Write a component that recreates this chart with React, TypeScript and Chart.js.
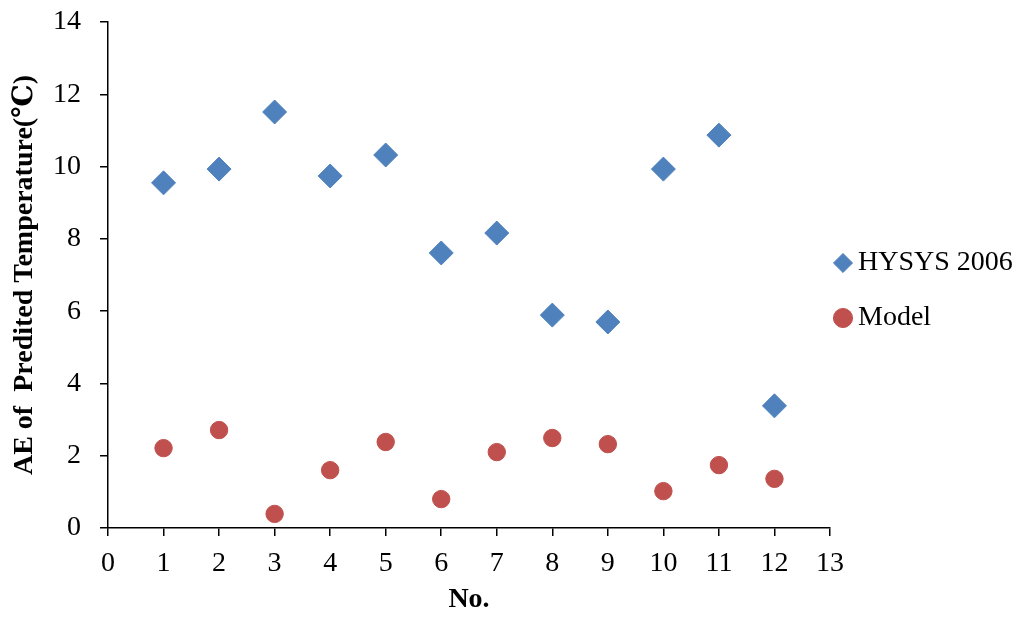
import React, { useEffect, useRef } from "react";
import { Chart, registerables } from "chart.js";

Chart.register(...registerables);

const categories = [1, 2, 3, 4, 5, 6, 7, 8, 9, 10, 11, 12];
const hysysValues = [9.55, 9.93, 11.51, 9.74, 10.32, 7.61, 8.16, 5.89, 5.70, 9.93, 10.87, 3.38];
const modelValues = [2.21, 2.71, 0.39, 1.60, 2.38, 0.80, 2.10, 2.49, 2.32, 1.02, 1.74, 1.36];
const seriesLabels = ["HYSYS 2006", "Model"];
const xTitle = "No.";
const yTitle = "AE of  Predited Temperature(\u2103)";

const FAMILY = '"Liberation Serif", "DejaVu Serif", "Times New Roman", serif';
const FS = 28;
const LEG_PAD = 27;
const LEG_BOXW = 2;

const legendShift = {
  id: "legendShift",
  afterLayout(chart: any) {
    const lg = chart.legend;
    if (!lg) return;
    const h = lg.height;
    lg.left = 843 - LEG_PAD - LEG_BOXW / 2;
    lg.right = chart.width;
    lg.width = lg.right - lg.left;
    lg.top = 249 - LEG_PAD;
    lg.bottom = lg.top + h;
  },
};

export default function App() {
  const ref = useRef<HTMLCanvasElement | null>(null);

  useEffect(() => {
    if (!ref.current) return;
    const chart = new Chart(ref.current, {
      type: "scatter",
      data: {
        datasets: [
          {
            label: seriesLabels[0],
            data: categories.map((x, i) => ({ x, y: hysysValues[i] })),
            pointStyle: "rectRot",
            pointRadius: 12,
            backgroundColor: "#4F81BD",
            borderColor: "#4F81BD",
            borderWidth: 1,
          },
          {
            label: seriesLabels[1],
            data: categories.map((x, i) => ({ x, y: modelValues[i] })),
            pointStyle: "circle",
            pointRadius: 8.7,
            backgroundColor: "#C0504D",
            borderColor: "#C0504D",
            borderWidth: 1,
          },
        ],
      },
      options: {
        responsive: false,
        animation: false,
        layout: { padding: { left: 0, top: 22, right: 0, bottom: 0 } },
        plugins: {
          tooltip: { enabled: false },
          legend: {
            position: "right",
            align: "start",
            maxWidth: 194,
            labels: {
              usePointStyle: true,
              boxWidth: LEG_BOXW,
              boxHeight: 13.5,
              padding: LEG_PAD,
              color: "#000",
              font: { family: FAMILY, size: FS },
            },
          },
        },
        scales: {
          x: {
            type: "linear",
            min: 0,
            max: 13,
            afterFit: (s: any) => {
              s.height = 97;
            },
            ticks: {
              stepSize: 1,
              color: "#000",
              padding: 11,
              font: { family: FAMILY, size: FS },
            },
            grid: {
              drawOnChartArea: false,
              drawTicks: true,
              tickLength: 8,
              color: "#000",
              lineWidth: 1.5,
            },
            border: { color: "#000", width: 1.5 },
            title: {
              display: true,
              text: xTitle,
              color: "#000",
              padding: { top: 4, bottom: 8 },
              font: { family: FAMILY, size: FS, weight: "bold" },
            },
          },
          y: {
            type: "linear",
            min: 0,
            max: 14,
            afterFit: (s: any) => {
              s.width = 108;
            },
            ticks: {
              stepSize: 2,
              color: "#000",
              padding: 19,
              font: { family: FAMILY, size: FS, lineHeight: 0.2 },
            },
            grid: {
              drawOnChartArea: false,
              drawTicks: true,
              tickLength: 8,
              color: "#000",
              lineWidth: 1.5,
            },
            border: { color: "#000", width: 1.5 },
            title: {
              display: true,
              text: yTitle,
              color: "#000",
              padding: { top: 8, bottom: 4 },
              font: { family: FAMILY, size: FS, weight: "bold" },
            },
          },
        },
      },
      plugins: [legendShift],
    } as any);
    return () => chart.destroy();
  }, []);

  return (
    <div style={{ position: "absolute", left: 0, top: 0, width: 1024, height: 625, background: "#fff" }}>
      <canvas ref={ref} width={1024} height={625} style={{ display: "block" }} />
    </div>
  );
}
